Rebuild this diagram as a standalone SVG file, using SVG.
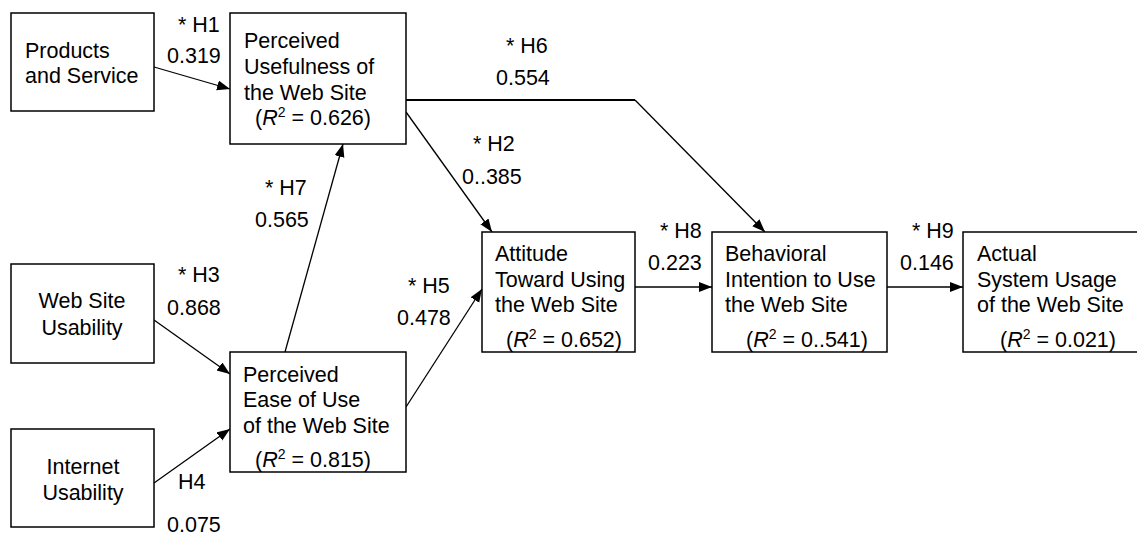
<svg xmlns="http://www.w3.org/2000/svg" width="1137" height="535" viewBox="0 0 1137 535">
<style>
.box{fill:#fff;stroke:#000;stroke-width:1.5}
.t{font-family:"Liberation Sans",Arial,sans-serif;font-size:21.5px;fill:#000}
.c{text-anchor:middle}
.ln{fill:none;stroke:#000;stroke-width:1.3}
.sup{font-size:14px}
</style>
<defs>
<marker id="ah" markerUnits="userSpaceOnUse" markerWidth="14" markerHeight="12" refX="13" refY="5" orient="auto">
<path d="M0,0 L13,5 L0,10 Z" fill="#000"/>
</marker>
</defs>
<rect width="1137" height="535" fill="#fff"/>
<g id="connectors">
<line class="ln" x1="154" y1="67" x2="230" y2="89" marker-end="url(#ah)"/>
<polyline class="ln" points="406,100 635,100" style="stroke-width:2"/>
<line class="ln" x1="635" y1="100" x2="765" y2="232" marker-end="url(#ah)"/>
<line class="ln" x1="406" y1="112" x2="492" y2="232" marker-end="url(#ah)"/>
<line class="ln" x1="285" y1="352" x2="343" y2="144" marker-end="url(#ah)"/>
<line class="ln" x1="154" y1="320" x2="230" y2="374" marker-end="url(#ah)"/>
<line class="ln" x1="154" y1="483" x2="230" y2="429" marker-end="url(#ah)"/>
<line class="ln" x1="406" y1="407" x2="482" y2="289" marker-end="url(#ah)"/>
<line class="ln" x1="635" y1="287" x2="712" y2="287" marker-end="url(#ah)"/>
<line class="ln" x1="887" y1="287" x2="963" y2="287" marker-end="url(#ah)"/>
<text class="t" x="178" y="32">* H1</text>
<text class="t" x="167" y="63">0.319</text>
<text class="t" x="506" y="53">* H6</text>
<text class="t" x="496" y="85">0.554</text>
<text class="t" x="473" y="151">* H2</text>
<text class="t" x="462" y="184">0..385</text>
<text class="t" x="265" y="195">* H7</text>
<text class="t" x="255" y="227">0.565</text>
<text class="t" x="178" y="282">* H3</text>
<text class="t" x="167" y="315">0.868</text>
<text class="t" x="178" y="489">H4</text>
<text class="t" x="167" y="532">0.075</text>
<text class="t" x="408" y="293">* H5</text>
<text class="t" x="397" y="325">0.478</text>
<text class="t" x="660" y="238">* H8</text>
<text class="t" x="648" y="270">0.223</text>
<text class="t" x="912" y="238">* H9</text>
<text class="t" x="900" y="270">0.146</text>
</g>
<g id="products">
<rect class="box" x="11" y="13" width="143" height="98"/>
<text class="t" x="25" y="58">Products</text>
<text class="t" x="25" y="83">and Service</text>
</g>
<g id="pu">
<rect class="box" x="230" y="13" width="176" height="131"/>
<text class="t" x="244" y="48">Perceived</text>
<text class="t" x="244" y="74">Usefulness of</text>
<text class="t" x="244" y="100">the Web Site</text>
<text class="t" x="255" y="125">(<tspan font-style="italic">R</tspan><tspan class="sup" dy="-8">2</tspan><tspan dy="8"> = 0.626)</tspan></text>
</g>
<g id="wsu">
<rect class="box" x="11" y="264" width="143" height="99"/>
<text class="t c" x="82" y="308">Web Site</text>
<text class="t c" x="82" y="335">Usability</text>
</g>
<g id="iu">
<rect class="box" x="11" y="429" width="143" height="98"/>
<text class="t c" x="83" y="474">Internet</text>
<text class="t c" x="83" y="500">Usability</text>
</g>
<g id="peou">
<rect class="box" x="230" y="352" width="176" height="120"/>
<text class="t" x="243" y="382">Perceived</text>
<text class="t" x="243" y="407">Ease of Use</text>
<text class="t" x="243" y="433">of the Web Site</text>
<text class="t" x="255" y="467">(<tspan font-style="italic">R</tspan><tspan class="sup" dy="-8">2</tspan><tspan dy="8"> = 0.815)</tspan></text>
</g>
<g id="attitude">
<rect class="box" x="482" y="232" width="153" height="120"/>
<text class="t" x="495" y="261">Attitude</text>
<text class="t" x="495" y="287">Toward Using</text>
<text class="t" x="495" y="312">the Web Site</text>
<text class="t" x="506" y="347">(<tspan font-style="italic">R</tspan><tspan class="sup" dy="-8">2</tspan><tspan dy="8"> = 0.652)</tspan></text>
</g>
<g id="behavioral">
<rect class="box" x="712" y="232" width="175" height="120"/>
<text class="t" x="725" y="261">Behavioral</text>
<text class="t" x="725" y="287">Intention to Use</text>
<text class="t" x="725" y="312">the Web Site</text>
<text class="t" x="746" y="347">(<tspan font-style="italic">R</tspan><tspan class="sup" dy="-8">2</tspan><tspan dy="8"> = 0..541)</tspan></text>
</g>
<g id="actual">
<rect class="box" x="963" y="232" width="180" height="120"/>
<text class="t" x="977" y="261">Actual</text>
<text class="t" x="977" y="287">System Usage</text>
<text class="t" x="977" y="312">of the Web Site</text>
<text class="t" x="1000" y="347">(<tspan font-style="italic">R</tspan><tspan class="sup" dy="-8">2</tspan><tspan dy="8"> = 0.021)</tspan></text>
</g>
</svg>
